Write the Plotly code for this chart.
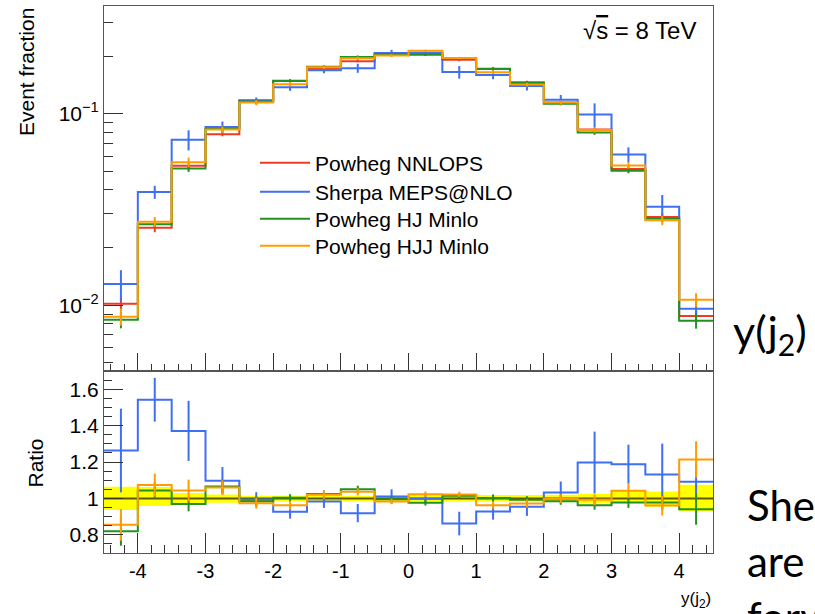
import plotly.graph_objects as go

# ---------------- data ----------------
bin_edges = [-4.5, -4.0, -3.5, -3.0, -2.5, -2.0, -1.5, -1.0, -0.5, 0.0,
             0.5, 1.0, 1.5, 2.0, 2.5, 3.0, 3.5, 4.0, 4.5]
bin_centers = [-4.25, -3.75, -3.25, -2.75, -2.25, -1.75, -1.25, -0.75, -0.25,
               0.25, 0.75, 1.25, 1.75, 2.25, 2.75, 3.25, 3.75, 4.25]

# event fractions (top panel)
nnlops = [0.0102, 0.0254, 0.0535, 0.078, 0.1175, 0.148, 0.1715, 0.188, 0.205,
          0.208, 0.191, 0.171, 0.146, 0.1145, 0.0828, 0.0515, 0.0289, 0.0088]
sherpa = [0.0129, 0.0390, 0.0731, 0.0852, 0.1168, 0.1372, 0.1686, 0.1728, 0.2071,
          0.2075, 0.1648, 0.1590, 0.1394, 0.1183, 0.0991, 0.0612, 0.0327, 0.0096]
hj = [0.00840, 0.0265, 0.0518, 0.0833, 0.1157, 0.1485, 0.1756, 0.1975, 0.2040,
      0.2030, 0.1937, 0.1715, 0.1448, 0.1128, 0.0797, 0.0504, 0.0283, 0.0083]
hjj = [0.00872, 0.0273, 0.0558, 0.0827, 0.1144, 0.1424, 0.1749, 0.1948, 0.2015,
       0.2128, 0.1952, 0.1647, 0.1419, 0.1143, 0.0821, 0.0537, 0.0278, 0.01068]

# ratios to Powheg NNLOPS (bottom panel)
ratio_sherpa = [1.263, 1.542, 1.371, 1.097, 0.994, 0.927, 0.983, 0.919, 1.01,
                0.998, 0.862, 0.928, 0.954, 1.033, 1.197, 1.188, 1.131, 1.092]
ratio_hj = [0.82, 1.043, 0.969, 1.065, 0.985, 1.003, 1.024, 1.05, 0.995,
            0.976, 1.014, 1.002, 0.992, 0.985, 0.963, 0.978, 0.978, 0.94]
ratio_hjj = [0.855, 1.073, 1.043, 1.06, 0.974, 0.962, 1.02, 1.036, 0.983,
             1.023, 1.022, 0.963, 0.972, 0.998, 0.992, 1.042, 0.961, 1.214]

# uncertainties on the ratios (half widths)
err_sherpa = [0.23, 0.12, 0.165, 0.075, 0.04, 0.038, 0.035, 0.05, 0.04,
              0.03, 0.065, 0.045, 0.05, 0.06, 0.17, 0.107, 0.17, 0.10]
err_hj = [0.08, 0.045, 0.04, 0.035, 0.025, 0.02, 0.02, 0.02, 0.015,
          0.015, 0.015, 0.02, 0.02, 0.02, 0.025, 0.03, 0.04, 0.085]
err_hjj = [0.087, 0.063, 0.06, 0.04, 0.03, 0.025, 0.022, 0.02, 0.015,
           0.015, 0.015, 0.02, 0.022, 0.025, 0.03, 0.04, 0.055, 0.10]

# NNLOPS uncertainty band (yellow)
band_lo = [0.936, 0.958, 0.970, 0.976, 0.985, 0.985, 0.986, 0.986, 0.986,
           0.983, 0.983, 0.983, 0.983, 0.982, 0.975, 0.974, 0.955, 0.928]
band_hi = [1.064, 1.062, 1.030, 1.021, 1.015, 1.015, 1.014, 1.014, 1.014,
           1.018, 1.018, 1.018, 1.018, 1.020, 1.025, 1.040, 1.038, 1.075]

names = ["Powheg NNLOPS", "Sherpa MEPS@NLO", "Powheg HJ Minlo", "Powheg HJJ Minlo"]
colors = ["#ee3b24", "#3f6ff2", "#21911f", "#ff9d00"]
legend_ids = ["legend", "legend2", "legend3", "legend4"]

FONT = "Liberation Sans, Arial, Helvetica, sans-serif"
SLIDE_FONT = "Lato, Open Sans, sans-serif"

# ---------------- figure ----------------
fig = go.Figure()


def step_y(vals):
    return list(vals) + [vals[-1]]


# relative errors for the top panel
nnlops_rel = [(h - l) / 2 for l, h in zip(band_lo, band_hi)]
tops = [nnlops, sherpa, hj, hjj]
rels = [nnlops_rel,
        [e / r for e, r in zip(err_sherpa, ratio_sherpa)],
        [e / r for e, r in zip(err_hj, ratio_hj)],
        [e / r for e, r in zip(err_hjj, ratio_hjj)]]

for vals, rel, name, col, lg in zip(tops, rels, names, colors, legend_ids):
    fig.add_trace(go.Scatter(
        x=bin_edges, y=step_y(vals), mode="lines", line_shape="hv",
        line=dict(color=col, width=2), name=name, xaxis="x", yaxis="y",
        legend=lg))
    fig.add_trace(go.Scatter(
        x=bin_centers, y=vals, mode="markers", marker=dict(size=1, opacity=0),
        error_y=dict(type="data", array=[v * r for v, r in zip(vals, rel)],
                     color=col, thickness=2, width=0),
        showlegend=False, xaxis="x", yaxis="y", hoverinfo="skip"))

# ratio panel: band
fig.add_trace(go.Bar(
    x=bin_centers, y=[h - l for l, h in zip(band_lo, band_hi)], base=band_lo,
    width=0.5, marker=dict(color="#ffff00", line=dict(width=0)),
    showlegend=False, xaxis="x2", yaxis="y2", hoverinfo="skip"))
ratio_nnlops = [v / v for v in nnlops]
fig.add_trace(go.Scatter(
    x=bin_edges, y=step_y(ratio_nnlops), mode="lines", line_shape="hv",
    line=dict(color="#5e5600", width=2), showlegend=False,
    xaxis="x2", yaxis="y2", hoverinfo="skip"))

for vals, errs, col in zip([ratio_sherpa, ratio_hj, ratio_hjj],
                           [err_sherpa, err_hj, err_hjj], colors[1:]):
    fig.add_trace(go.Scatter(
        x=bin_edges, y=step_y(vals), mode="lines", line_shape="hv",
        line=dict(color=col, width=2), showlegend=False,
        xaxis="x2", yaxis="y2", hoverinfo="skip"))
    fig.add_trace(go.Scatter(
        x=bin_centers, y=vals, mode="markers", marker=dict(size=1, opacity=0),
        error_y=dict(type="data", array=errs, color=col, thickness=2, width=0),
        showlegend=False, xaxis="x2", yaxis="y2", hoverinfo="skip"))

split = 182 / 547

axis_common = dict(showline=True, linecolor="#555555", linewidth=1, mirror=True,
                   showgrid=False, zeroline=False, ticks="inside",
                   tickcolor="#333333", tickwidth=1,
                   tickfont=dict(family=FONT, size=20, color="black"))

top_minor = [0.005, 0.006, 0.007, 0.008, 0.009,
             0.02, 0.03, 0.04, 0.05, 0.06, 0.07, 0.08, 0.09, 0.2, 0.3]

legend_rows_px = [163, 192, 219, 246]  # layout positions of legend rows
legend_layout = {}
for lg, row in zip(legend_ids, legend_rows_px):
    legend_layout[lg] = dict(x=0.248, y=(553 - row) / 547, xanchor="left",
                             yanchor="middle", bgcolor="rgba(0,0,0,0)",
                             font=dict(family=FONT, size=21), itemwidth=50)

fig.update_layout(
    width=815, height=614,
    margin=dict(l=104, r=102, t=6, b=61),
    paper_bgcolor="white", plot_bgcolor="white",
    barmode="overlay",
    font=dict(family=FONT, size=20, color="black"),
    xaxis=dict(axis_common, domain=[0, 1], anchor="y", range=[-4.5, 4.5],
               showticklabels=False, tick0=0, dtick=1, ticklen=18,
               minor=dict(ticks="inside", ticklen=7, dtick=0.2, tick0=0,
                          tickcolor="#333333")),
    yaxis=dict(axis_common, domain=[split, 1], anchor="x", type="log",
               range=[-2.343, -0.438], tickmode="array", tickvals=[0.01, 0.1],
               ticktext=["10<sup>−2</sup>", "10<sup>−1</sup>"], ticklen=19,
               tickfont=dict(family=FONT, size=21, color="black"),
               minor=dict(ticks="inside", ticklen=9, tickmode="array",
                          tickvals=top_minor, tickcolor="#333333")),
    xaxis2=dict(axis_common, domain=[0, 1], anchor="y2", range=[-4.5, 4.5],
                matches="x", ticklen=20,
                tickmode="array", tickvals=[-4, -3, -2, -1, 0, 1, 2, 3, 4],
                ticktext=["-4", "-3", "-2", "-1", "0", "1", "2", "3", "4"],
                minor=dict(ticks="inside", ticklen=8, dtick=0.2, tick0=0,
                           tickcolor="#333333")),
    yaxis2=dict(axis_common, domain=[0, split], anchor="x2", range=[0.7, 1.7],
                tickmode="array", tickvals=[0.8, 1.0, 1.2, 1.4, 1.6],
                ticktext=["0.8", "1", "1.2", "1.4", "1.6"], ticklen=19,
                tickfont=dict(family=FONT, size=21, color="black"),
                minor=dict(ticks="inside", ticklen=8, dtick=0.05, tick0=0,
                           tickcolor="#333333")),
    showlegend=True,
    **legend_layout,
)

ann = [
    dict(text="Event fraction", x=-0.128, y=1.0, xanchor="center", yanchor="top",
         textangle=-90, font=dict(family=FONT, size=21)),
    dict(text="Ratio", x=-0.112, y=0.165, xanchor="center", yanchor="middle",
         textangle=-90, font=dict(family=FONT, size=21)),
    dict(text="√<span style='text-decoration:overline'>s</span> = 8 TeV",
         x=0.976, y=0.956, xanchor="right", yanchor="middle",
         font=dict(family=FONT, size=24)),
    dict(text="y(j<sub>2</sub>)", x=1.0, y=-0.086, xanchor="right", yanchor="middle",
         font=dict(family=FONT, size=17)),
    dict(text="y(j<sub>2</sub>)", x=1.03, y=0.402, xanchor="left", yanchor="middle",
         font=dict(family=SLIDE_FONT, size=43)),
    dict(text="Sherpa", x=1.053, y=0.088, xanchor="left", yanchor="middle",
         font=dict(family=SLIDE_FONT, size=42)),
    dict(text="are", x=1.053, y=-0.0146, xanchor="left", yanchor="middle",
         font=dict(family=SLIDE_FONT, size=42)),
    dict(text="forward", x=1.053, y=-0.117, xanchor="left", yanchor="middle",
         font=dict(family=SLIDE_FONT, size=42)),
]
for a in ann:
    a.update(xref="paper", yref="paper", showarrow=False)
fig.update_layout(annotations=ann)

fig.write_html("out.html")
